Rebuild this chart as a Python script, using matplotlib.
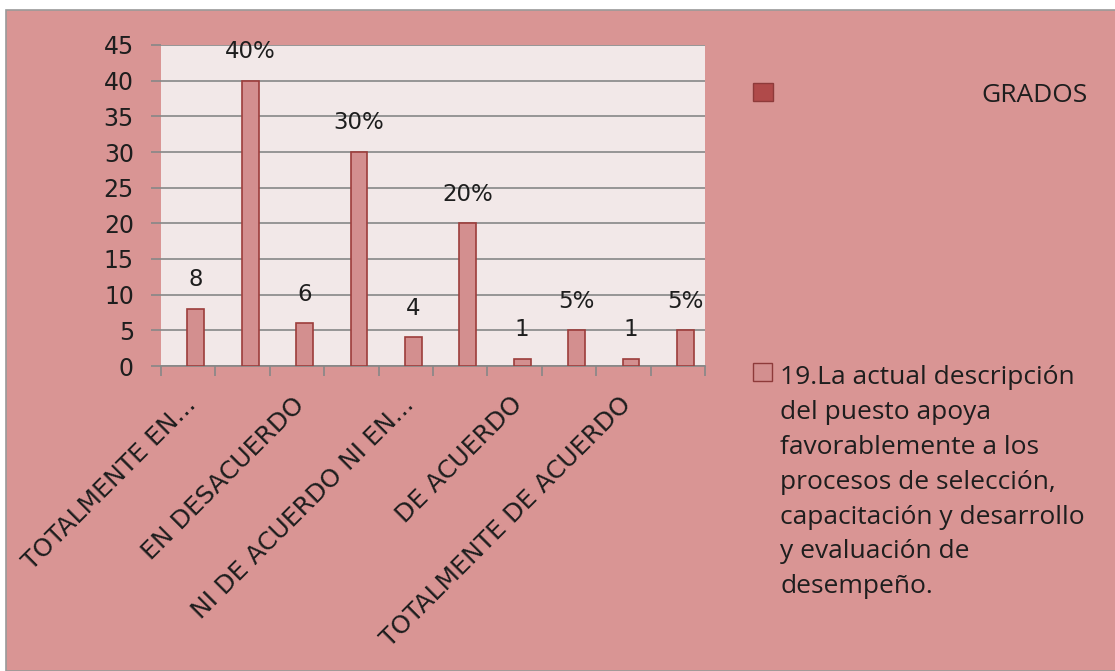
import matplotlib
matplotlib.use("Agg")
import matplotlib.pyplot as plt
from matplotlib.patches import Rectangle

plt.rcParams["font.family"] = ["Open Sans", "DejaVu Sans"]

# ====== DATA ======
CATEGORIES = [
    "TOTALMENTE EN...", "",
    "EN DESACUERDO", "",
    "NI DE ACUERDO NI EN...", "",
    "DE ACUERDO", "",
    "TOTALMENTE DE ACUERDO", "",
]
VALUES = [8, 40, 6, 30, 4, 20, 1, 5, 1, 5]
BAR_LABELS = ["8", "40%", "6", "30%", "4", "20%", "1", "5%", "1", "5%"]
Y_TICKS = [0, 5, 10, 15, 20, 25, 30, 35, 40, 45]

SERIES_1 = "GRADOS"
SERIES_2 = ("19.La actual descripción\ndel puesto apoya\nfavorablemente a los\n"
            "procesos de selección,\ncapacitación y desarrollo\ny evaluación de\ndesempeño.")

# ====== STYLE ======
BG = "#D99594"
PLOT_BG = "#F2E8E8"
BAR_FACE = "#D38F8F"
BAR_EDGE = "#9C3D3B"
GRID = "#878787"
TEXT = "#1E1E1E"
AXIS_FONT = ["DejaVu Sans"]

W, H = 1115, 671
fig = plt.figure(figsize=(W / 100, H / 100), dpi=100, facecolor="white")

# pink chart area with a thin grey frame
fig.patches.append(Rectangle((6 / W, 0), 1.0, 1 - 10 / H, transform=fig.transFigure,
                             facecolor=BG, edgecolor="#9A9A9A", linewidth=1.2, zorder=-10))

ax = fig.add_axes([161 / W, 1 - 366 / H, (705 - 161) / W, (366 - 45) / H])
ax.set_facecolor(PLOT_BG)

x = [i + 0.14 for i in range(len(VALUES))]
ax.bar(x, VALUES, width=0.31, color=BAR_FACE, edgecolor=BAR_EDGE, linewidth=1.2, zorder=3)

for xi, v, lbl in zip(x, VALUES, BAR_LABELS):
    ax.annotate(lbl, (xi, v), xytext=(0, 21), textcoords="offset points",
                ha="center", va="center", fontsize=16.5, color=TEXT, family=AXIS_FONT)

ax.set_xlim(-0.5, len(VALUES) - 0.5)
ax.set_ylim(0, 45)
ax.set_yticks(Y_TICKS)
ax.yaxis.grid(True, color=GRID, linewidth=1.2, zorder=1)
ax.set_axisbelow(True)
ax.tick_params(axis="y", length=7.5, width=1.2, color=GRID, pad=12,
               labelsize=17, labelcolor=TEXT)
for t in ax.get_yticklabels():
    t.set_family(AXIS_FONT)

# tick marks between categories, labels under every other bar
ax.set_xticks([i - 0.5 for i in range(len(VALUES) + 1)])
ax.set_xticklabels([])
ax.tick_params(axis="x", which="major", length=7.5, width=1.2, color=GRID)
lab_pos = [i for i, c in enumerate(CATEGORIES) if c]
ax.set_xticks([p - 0.08 for p in lab_pos], minor=True)
ax.set_xticklabels([CATEGORIES[i] for i in lab_pos], minor=True)
ax.tick_params(axis="x", which="minor", length=0, pad=19, labelsize=18, labelcolor=TEXT)
for t in ax.get_xticklabels(minor=True):
    t.set_family(AXIS_FONT)
    t.set_rotation(45)
    t.set_rotation_mode("anchor")
    t.set_ha("right")
    t.set_va("top")

for side in ["top", "right", "left"]:
    ax.spines[side].set_visible(False)
ax.spines["bottom"].set_color(GRID)
ax.spines["bottom"].set_linewidth(1.2)

# legend drawn beside the plot
fig.patches.append(Rectangle((753 / W, 1 - 101 / H), 20 / W, 18 / H, transform=fig.transFigure,
                             facecolor="#B04A4A", edgecolor="#8E3A3A", linewidth=1))
fig.text(1088 / W, 1 - 96 / H, SERIES_1, ha="right", va="center", fontsize=19, color=TEXT)
fig.patches.append(Rectangle((753 / W, 1 - 381 / H), 19 / W, 18 / H, transform=fig.transFigure,
                             facecolor=BAR_FACE, edgecolor="#8E3A3A", linewidth=1))
fig.text(780 / W, 1 - 365 / H, SERIES_2, ha="left", va="top", fontsize=19, color=TEXT,
         linespacing=1.52)

fig.savefig("out.png", dpi=100, facecolor=fig.get_facecolor())
